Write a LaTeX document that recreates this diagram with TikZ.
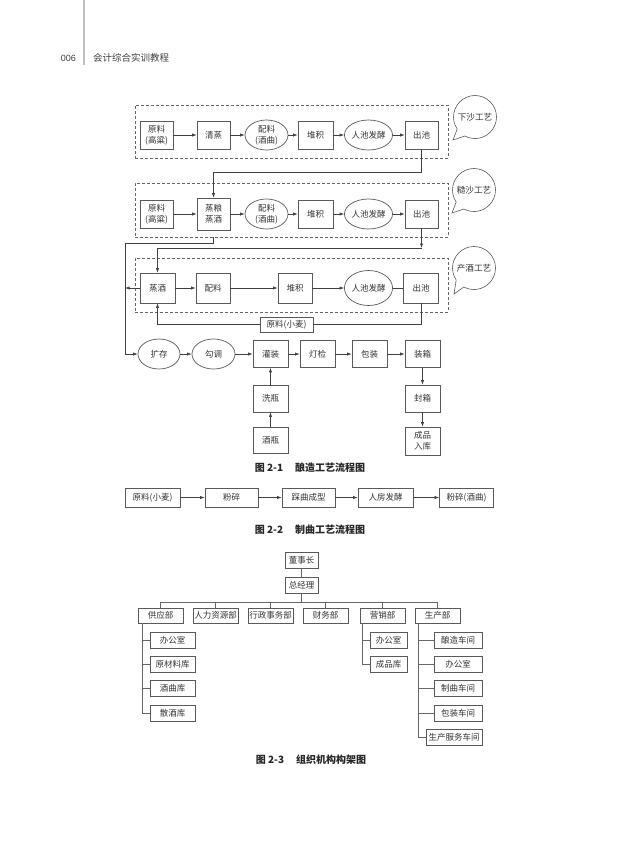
\documentclass[tikz,border=0pt]{standalone}
\usepackage{fontspec}
\setmainfont{Noto Sans CJK SC}
\newfontfamily\latinsans{Liberation Sans}
\usetikzlibrary{arrows.meta,shapes.geometric,calc}
\begin{document}
\begin{tikzpicture}[x=1pt,y=-1pt,
  ln/.style={draw=black!75, line width=0.6pt},
  arr/.style={ln, -{Latex[length=4.5pt,width=3.2pt]}},
  bx/.style={draw=black!65, line width=0.7pt, inner sep=0pt, align=center, font=\fontsize{8.5}{11}\selectfont, text=black!80},
  ov/.style={bx, ellipse},
  sz/.style 2 args={minimum width=#1pt, minimum height=#2pt},
  grp/.style={draw=black!60, line width=0.6pt, dash pattern=on 3pt off 2pt, inner sep=0pt},
  bub/.style={draw=black!65, line width=0.6pt},
  btxt/.style={inner sep=0pt, font=\fontsize{8.6}{10}\selectfont, text=black!80},
  captxt/.style={inner sep=0pt, font=\fontsize{10}{12}\selectfont\bfseries, text=black!85},
  org/.style={draw=black!65, line width=0.6pt, inner sep=0pt, font=\fontsize{8.5}{10}\selectfont, text=black!80},
  oln/.style={draw=black!60, line width=0.6pt},
]
\useasboundingbox (0,0) rectangle (620,849);

% header
\draw[line width=1.3pt, black!25] (84,0) -- (84,65);
\node[anchor=east, inner sep=0pt, font=\latinsans\fontsize{9}{10}\selectfont, text=black!75] (pg) at (76,58) {006};
\node[anchor=west, inner sep=0pt, font=\fontsize{9.5}{11}\selectfont, text=black!75] (ht) at (93,58) {会计综合实训教程};

% groups
\node[grp, sz={313}{53}] (g1) at (291.5,131.5) {};
\node[grp, sz={313}{54}] (g2) at (291.5,210) {};
\node[grp, sz={313}{54}] (g3) at (291.5,285) {};

% bubbles
\node[btxt] (b1) at (475,117) {下沙工艺};
\draw[bub] ($(b1)+(118:21.5)$) -- ($(b1)+(-22,23)$) -- ($(b1)+(146:21.5)$) arc[start angle=146, end angle=478, radius=21.5];
\node[btxt] (b2) at (474,190) {糙沙工艺};
\draw[bub] ($(b2)+(118:21.5)$) -- ($(b2)+(-22,23)$) -- ($(b2)+(146:21.5)$) arc[start angle=146, end angle=478, radius=21.5];
\node[btxt] (b3) at (474,268) {产酒工艺};
\draw[bub] ($(b3)+(118:21.5)$) -- ($(b3)+(-20,26)$) -- ($(b3)+(146:21.5)$) arc[start angle=146, end angle=478, radius=21.5];

% row 1
\node[bx, sz={33}{28}] (r1a) at (156.5,135) {原料\\(高粱)};
\node[bx, sz={33}{28}] (r1b) at (213.5,135) {清蒸};
\node[ov, sz={43}{30}] (r1c) at (266.5,135) {配料\\(酒曲)};
\node[bx, sz={35}{28}] (r1d) at (315.5,135) {堆积};
\node[ov, sz={43}{30}] (r1e) at (368.5,135) {人池发酵};
\node[bx, sz={33}{28}] (r1f) at (421.5,135) {出池};
\draw[arr] (r1a) -- (r1b);
\draw[arr] (r1b) -- (r1c);
\draw[arr] (r1c) -- (r1d);
\draw[arr] (r1d) -- (r1e);
\draw[arr] (r1e) -- (r1f);

% row 2
\node[bx, sz={33}{28}] (r2a) at (156.5,214) {原料\\(高粱)};
\node[bx, sz={33}{32}] (r2b) at (213.5,214) {蒸粮\\蒸酒};
\node[ov, sz={43}{30}] (r2c) at (266.5,214) {配料\\(酒曲)};
\node[bx, sz={35}{28}] (r2d) at (315.5,214) {堆积};
\node[ov, sz={43}{30}] (r2e) at (368.5,214) {人池发酵};
\node[bx, sz={33}{28}] (r2f) at (421.5,214) {出池};
\draw[arr] (r2a) -- (r2b);
\draw[arr] (r2b) -- (r2c);
\draw[arr] (r2c) -- (r2d);
\draw[arr] (r2d) -- (r2e);
\draw[arr] (r2e) -- (r2f);

% connector row1 -> row2
\coordinate (k1) at (213.5,172);
\draw[arr] (r1f.south) |- (k1) -- (r2b.north);

% row 3
\node[bx, sz={35}{30}] (r3a) at (157.5,288) {蒸酒};
\node[bx, sz={34}{30}] (r3b) at (213,288) {配料};
\node[bx, sz={34}{30}] (r3c) at (295,288) {堆积};
\node[ov, sz={43}{35}] (r3d) at (368.5,288) {人池发酵};
\node[bx, sz={35}{30}] (r3e) at (421,288) {出池};
\draw[arr] (r3a) -- (r3b);
\draw[arr] (r3b) -- (r3c);
\draw[arr] (r3c) -- (r3d);
\draw[ln] (r3d) -- (r3e);
\node[bx, sz={53}{15}] (lab) at (286.5,324.5) {原料(小麦)};
\draw[ln] (r3e.south) |- (lab.east);
\draw[arr] (lab.west) -| (r3a.south);

% connector row2 -> row3
\coordinate (k3) at (421.5,248);
\draw[arr] (r2f.south) -- (k3);
\draw[arr] (k3) -| (r3a.north);

% row 4
\node[ov, sz={42}{30}] (r4a) at (159,354) {扩存};
\node[ov, sz={43}{30}] (r4b) at (213.5,354) {勾调};
\node[bx, sz={35}{27}] (r4c) at (270.5,354) {灌装};
\node[bx, sz={35}{27}] (r4d) at (317.5,354) {灯检};
\node[bx, sz={35}{27}] (r4e) at (369.5,354) {包装};
\node[bx, sz={35}{27}] (r4f) at (422.5,354) {装箱};
\node[bx, sz={35}{27}] (r4g) at (270.5,398.5) {洗瓶};
\node[bx, sz={35}{26}] (r4h) at (270.5,440) {酒瓶};
\node[bx, sz={35}{27}] (r4i) at (422.5,398.5) {封箱};
\node[bx, sz={35}{28}] (r4j) at (422.5,441) {成品\\入库};
\draw[arr] (r4a) -- (r4b);
\draw[arr] (r4b) -- (r4c);
\draw[arr] (r4c) -- (r4d);
\draw[arr] (r4d) -- (r4e);
\draw[arr] (r4e) -- (r4f);
\draw[arr] (r4f) -- (r4i);
\draw[arr] (r4i) -- (r4j);
\draw[arr] (r4h) -- (r4g);
\draw[arr] (r4g) -- (r4c);

% connector row2 -> storage
\coordinate (k2a) at (g2.south -| r2b);
\coordinate (k2b) at (125,243);
\draw[arr] (k2a) |- (k2b) |- (r4a.west);
\coordinate (k4) at (125,288);
\draw[arr] (r3a.west) -- (k4);

\node[captxt] (cap1) at (310,468) {图 2-1\hspace{1.2em}酿造工艺流程图};

% row 5
\node[bx, sz={55}{19}] (s1) at (152.5,497.5) {原料(小麦)};
\node[bx, sz={53}{19}] (s2) at (231.5,497.5) {粉碎};
\node[bx, sz={53}{19}] (s3) at (308.5,497.5) {踩曲成型};
\node[bx, sz={55}{19}] (s4) at (385.5,497.5) {人房发酵};
\node[bx, sz={54}{19}] (s5) at (466.5,497.5) {粉碎(酒曲)};
\draw[arr] (s1) -- (s2);
\draw[arr] (s2) -- (s3);
\draw[arr] (s3) -- (s4);
\draw[arr] (s4) -- (s5);

\node[captxt] (cap2) at (310,530) {图 2-2\hspace{1.2em}制曲工艺流程图};

% org chart
\node[org, sz={33}{16}] (o0) at (301.5,560) {董事长};
\node[org, sz={33}{16}] (o1) at (301.5,585) {总经理};
\draw[oln] (o0) -- (o1);
\coordinate (bus) at (301.5,602);
\draw[oln] (o1.south) -- (bus);
\node[org, sz={45}{15}] (d1) at (160.5,615.5) {供应部};
\node[org, sz={45}{15}] (d2) at (215.5,615.5) {人力资源部};
\node[org, sz={45}{15}] (d3) at (270.5,615.5) {行政事务部};
\node[org, sz={45}{15}] (d4) at (325.5,615.5) {财务部};
\node[org, sz={45}{15}] (d5) at (382.5,615.5) {营销部};
\node[org, sz={45}{15}] (d6) at (437.5,615.5) {生产部};
\draw[oln] (d1.north |- bus) -- (d6.north |- bus);
\foreach \d in {d1,d2,d3,d4,d5,d6} \draw[oln] (\d.north) -- (\d.north |- bus);

\node[org, sz={45}{16}] (c11) at (172.5,640) {办公室};
\node[org, sz={45}{16}] (c12) at (172.5,664) {原材料库};
\node[org, sz={45}{16}] (c13) at (172.5,688.5) {酒曲库};
\node[org, sz={45}{16}] (c14) at (172.5,713) {散酒库};
\coordinate (v1) at (142,623);
\foreach \n in {c11,c12,c13,c14} \draw[oln] (v1) |- (\n.west);

\node[org, sz={37}{16}] (c51) at (388.5,640) {办公室};
\node[org, sz={37}{16}] (c52) at (388.5,664) {成品库};
\coordinate (v5) at (362,623);
\foreach \n in {c51,c52} \draw[oln] (v5) |- (\n.west);

\node[org, sz={48}{16}] (c61) at (458,640) {酿造车间};
\node[org, sz={48}{16}] (c62) at (458,664) {办公室};
\node[org, sz={48}{16}] (c63) at (458,688.5) {制曲车间};
\node[org, sz={48}{16}] (c64) at (458,713) {包装车间};
\node[org, sz={56}{16}] (c65) at (454,737) {生产服务车间};
\coordinate (v6) at (418,623);
\foreach \n in {c61,c62,c63,c64,c65} \draw[oln] (v6) |- (\n.west);

\node[captxt] (cap3) at (311,760) {图 2-3\hspace{1.2em}组织机构构架图};
\end{tikzpicture}
\end{document}
